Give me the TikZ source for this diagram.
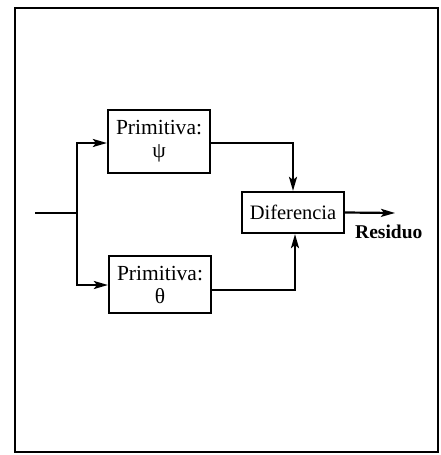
\documentclass[tikz,border=0pt]{standalone}
\usepackage{fontspec}
\setmainfont{Liberation Serif}
\usetikzlibrary{arrows.meta}
\begin{document}
\begin{tikzpicture}[x=1pt,y=-1pt,
  blk/.style={draw,line width=2.2pt,inner sep=0pt,align=center,font=\fontsize{21.5}{23}\selectfont},
  conn/.style={line width=2.2pt},
  arr/.style={conn,-{Stealth[length=14pt,width=8pt,inset=3pt]}}]
\useasboundingbox (0,0) rectangle (440,455);
\draw[line width=2.8pt] (15,8) rectangle (438,452);
\node[blk,minimum width=102pt,minimum height=63pt] (p1) at (159,141.5) {Primitiva:\\ψ};
\node[blk,minimum width=102pt,minimum height=57pt] (p2) at (160,284.5) {Primitiva:\\θ};
\node[blk,minimum width=102pt,minimum height=41pt,font=\fontsize{20.5}{22}\selectfont] (d) at (293,212.5) {Diferencia};
\coordinate (in) at (35,213);
\coordinate (br) at (77,213);
\coordinate (out) at (395,213);
\draw[conn] (in) -- (br);
\draw[arr] (br) |- (p1.west |- 0,143);
\draw[arr] (br) |- (p2.west |- 0,285);
\draw[arr] (p1.east |- 0,143) -| (d.north);
\draw[arr] (p2.east |- 0,290) -| ([xshift=2pt]d.south);
\draw[arr] (d.east) -- (out);
\node[font=\bfseries\fontsize{19.5}{21}\selectfont,anchor=west,inner sep=0pt] (res) at (355,232) {Residuo};
\end{tikzpicture}
\end{document}
